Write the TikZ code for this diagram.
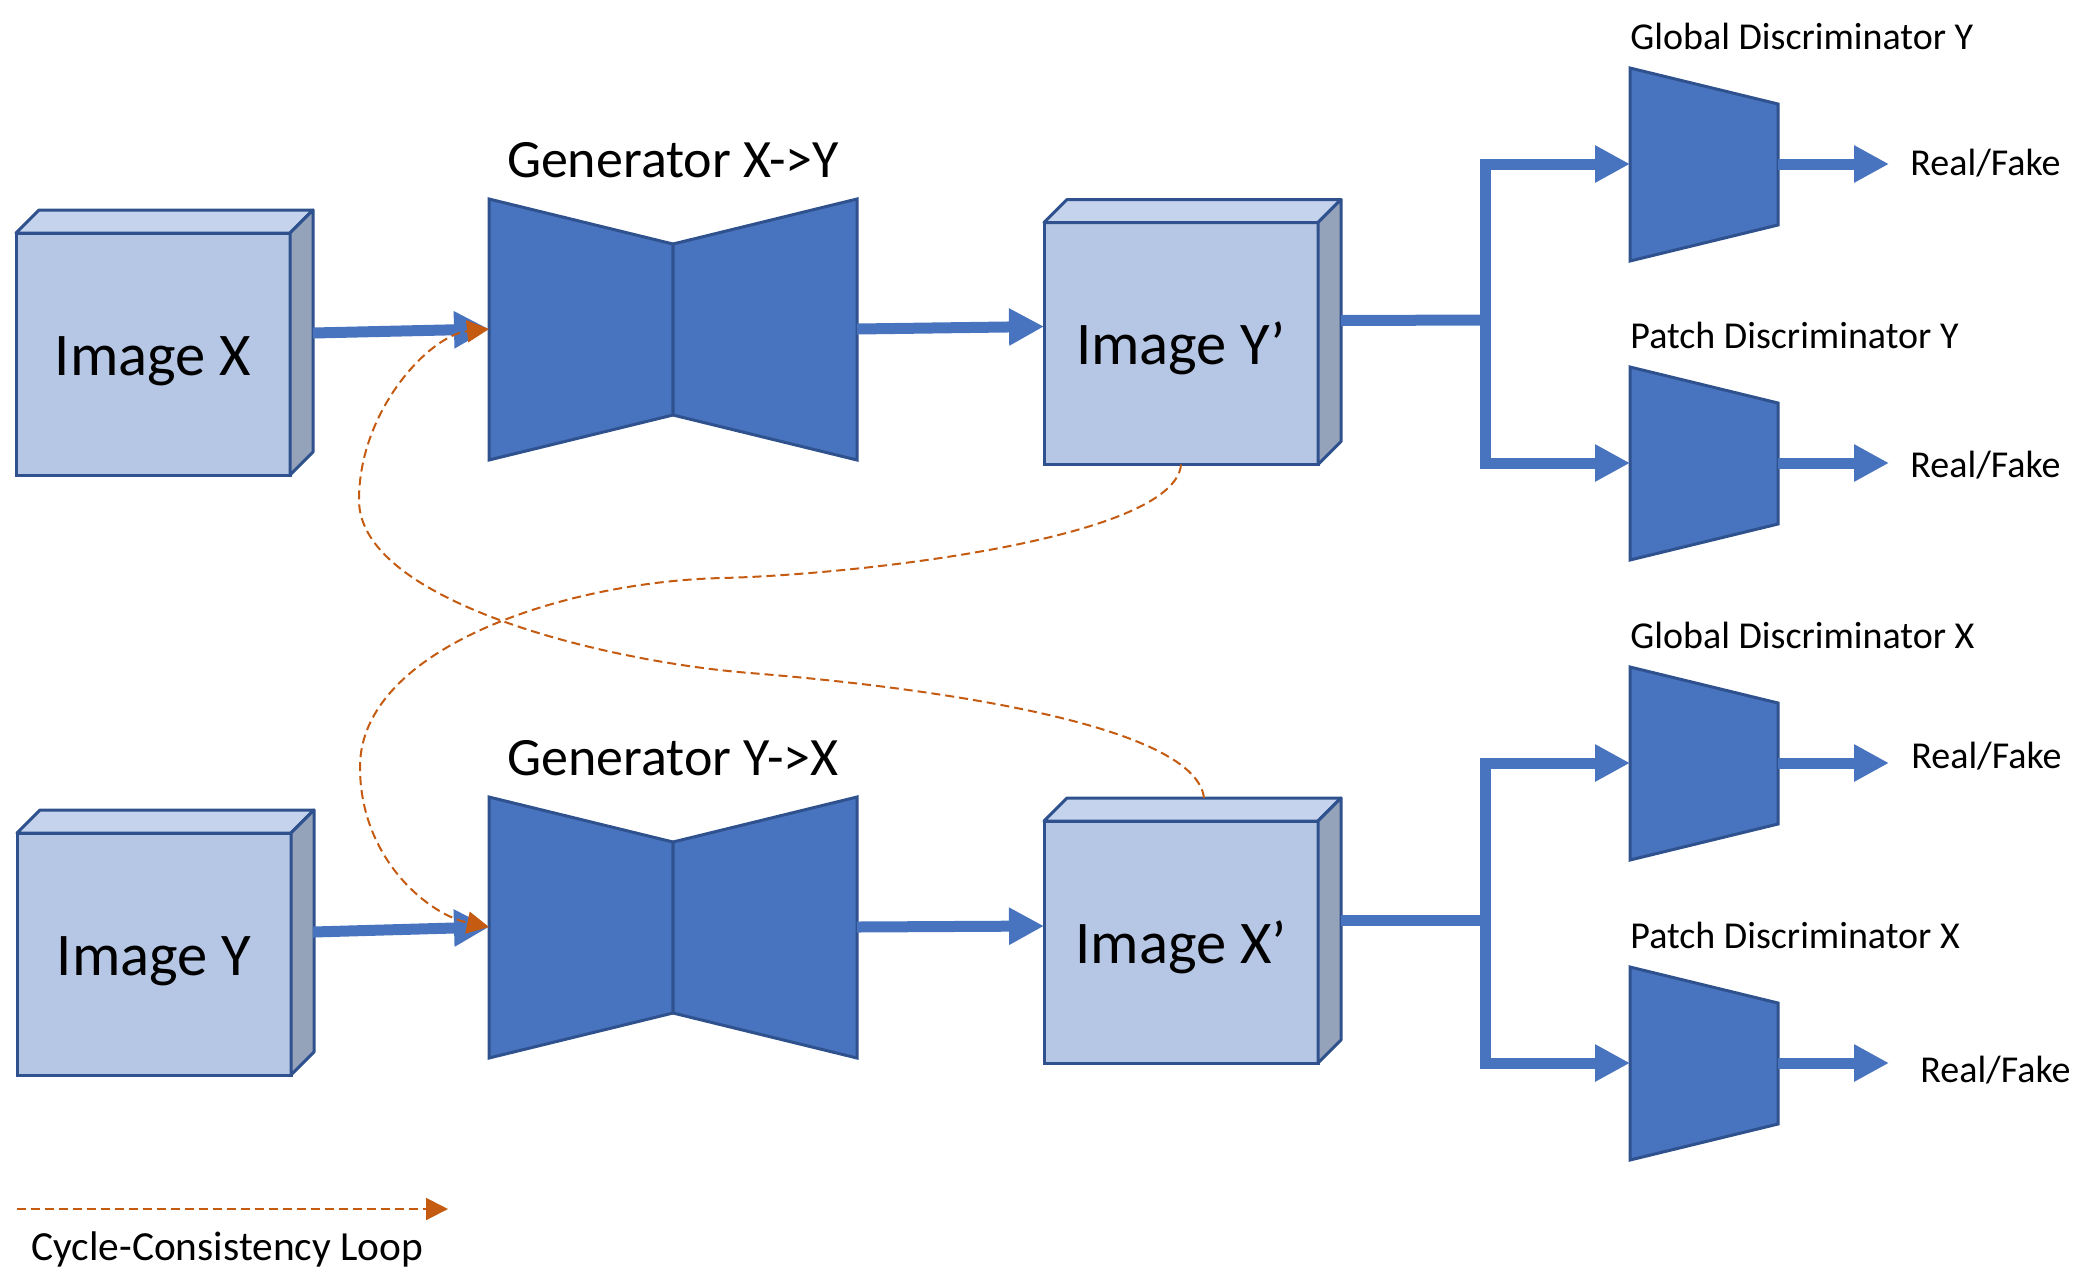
\documentclass[tikz,border=0pt]{standalone}
\usepackage{fontspec}
\setmainfont{Carlito}
\usetikzlibrary{arrows.meta}
\definecolor{gblue}{HTML}{4873BF}
\definecolor{gedge}{HTML}{2F528F}
\definecolor{cfront}{HTML}{B6C7E5}
\definecolor{ctop}{HTML}{C5D3EC}
\definecolor{cside}{HTML}{94A2BA}
\definecolor{orng}{HTML}{C55A11}
\tikzset{
  front/.style={draw=gedge, line width=1.5pt, fill=cfront, minimum width=137pt, minimum height=121pt, inner sep=0pt, outer sep=0pt},
  face/.style={draw=gedge, line width=1.5pt, line join=round},
  genstyle/.style={draw=gedge, line width=1.5pt, fill=gblue, line join=miter},
  conn/.style={draw=gblue, line width=5.5pt},
  conarrow/.style={conn, -{Triangle[length=17.5pt,width=17.5pt]}},
  cycloop/.style={draw=orng, line width=1pt, dash pattern=on 4.5pt off 2.5pt, -{Triangle[length=11pt,width=11pt,fill=orng]}},
  imgtxt/.style={font=\fontsize{30.3}{36}\selectfont, inner sep=0pt, anchor=base},
  gentxt/.style={font=\fontsize{27}{33}\selectfont, inner sep=0pt, anchor=base},
  disctxt/.style={font=\fontsize{19}{23}\selectfont, inner sep=0pt, anchor=base west},
  legtxt/.style={font=\fontsize{20.7}{25}\selectfont, inner sep=0pt, anchor=base west},
}
\newcommand{\imgcube}[4]{%
  \node[front] (#1) at (#2,#3) {};
  \draw[face, fill=ctop] (#1.north west) -- ++(23,-23) -- ++(274,0) -- (#1.north east) -- cycle;
  \draw[face, fill=cside] (#1.north east) -- ++(23,-23) -- ++(0,242) -- (#1.south east) -- cycle;
  \node[imgtxt] (#1-t) at (#2,#3+21) {#4};
}
\newcommand{\gennet}[2]{%
  \draw[genstyle] (489,#2) -- (673,#2+45) -- (673,#2+216) -- (489,#2+261) -- cycle;
  \draw[genstyle] (857,#2) -- (673,#2+45) -- (673,#2+216) -- (857,#2+261) -- cycle;
  \coordinate (#1-in) at (489,#2+130);
  \coordinate (#1-out) at (857,#2+130);
}
% name, top, label, Real/Fake x, Real/Fake baseline offset
\newcommand{\discnet}[5]{%
  \draw[genstyle] (1630,#2) -- (1778,#2+36) -- (1778,#2+157) -- (1630,#2+193) -- cycle;
  \coordinate (#1-in) at (1630,#2+96);
  \coordinate (#1-out) at (1778,#2+96);
  \coordinate (#1-tip) at (1889,#2+96);
  \node[disctxt] (#1-l) at (1630,#2-19) {#3};
  \node[disctxt] (#1-rf) at (#4,#2+#5) {Real/Fake};
  \draw[conarrow] (#1-out) -- (#1-tip);
}
\begin{document}
\begin{tikzpicture}[x=0.5pt,y=-0.5pt]
\useasboundingbox (0,0) rectangle (2096,1286);

% cubes
\imgcube{imgX}{153}{354}{Image X}
\imgcube{imgY}{154}{954}{Image Y}
\imgcube{imgYp}{1181}{343.5}{Image Y’}
\imgcube{imgXp}{1181}{942}{Image X’}

% generators
\gennet{gxy}{199}
\gennet{gyx}{797}
\node[gentxt] (gxy-l) at (673,177) {Generator X->Y};
\node[gentxt] (gyx-l) at (673,775) {Generator Y->X};

% discriminators
\discnet{dGY}{68}{Global Discriminator Y}{1910}{107}
\discnet{dPY}{367}{Patch Discriminator Y}{1910}{110}
\discnet{dGX}{667}{Global Discriminator X}{1911}{101}
\discnet{dPX}{967}{Patch Discriminator X}{1920}{115}

% main connectors
\draw[conarrow] ([shift={(23,-21)}]imgX.east) -- (gxy-in);
\draw[conarrow] (gxy-out) -- ([shift={(0,-17)}]imgYp.west);
\draw[conarrow] ([shift={(22,-22)}]imgY.east) -- (gyx-in);
\draw[conarrow] (gyx-out) -- ([shift={(0,-16)}]imgXp.west);

% branches
\coordinate (brY) at (1485,320);
\coordinate (brX) at (1485,920);
\draw[conn] ([shift={(23,-23)}]imgYp.east) -- (brY);
\draw[conarrow] (brY) |- (dGY-in);
\draw[conarrow] (brY) |- (dPY-in);
\draw[conn] ([shift={(23,-22)}]imgXp.east) -- (brX);
\draw[conarrow] (brX) |- (dGX-in);
\draw[conarrow] (brX) |- (dPX-in);

% cycle-consistency loops
\draw[cycloop] ([shift={(23,-23)}]imgXp.north) .. controls (1195,720) and (900,685) .. (750,673)
  .. controls (600,661) and (359,600) .. (359,500)
  .. controls (359,410) and (430,335) .. (gxy-in);
\draw[cycloop] (imgYp.south) .. controls (1175,540) and (850,575) .. (722,578)
  .. controls (560,582) and (360,650) .. (360,767)
  .. controls (360,860) and (430,915) .. (gyx-in);

% legend
\coordinate (lgA) at (17,1209);
\coordinate (lgB) at (448,1209);
\draw[cycloop] (lgA) -- (lgB);
\node[legtxt] (lgT) at (31,1260) {Cycle-Consistency Loop};
\end{tikzpicture}
\end{document}
